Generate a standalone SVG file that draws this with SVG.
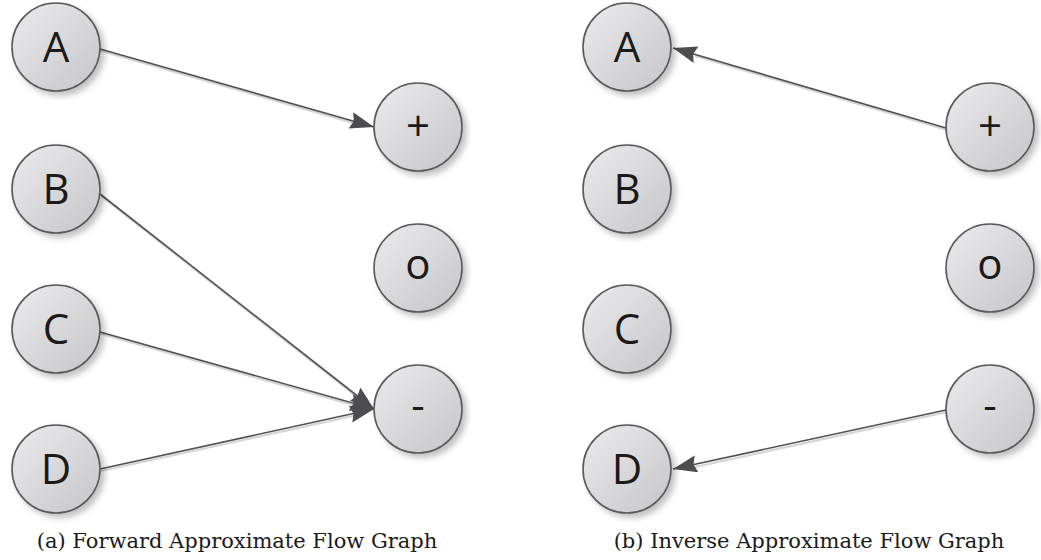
<svg xmlns="http://www.w3.org/2000/svg" width="1041" height="560" viewBox="0 0 1041 560">
<defs>
<linearGradient id="nodeFill" x1="0" y1="0" x2="1" y2="1">
<stop offset="0" stop-color="#ebebed"/>
<stop offset="1" stop-color="#c6c6ca"/>
</linearGradient>
<filter id="shadow" x="-30%" y="-30%" width="170%" height="170%">
<feGaussianBlur in="SourceAlpha" stdDeviation="3"/>
<feOffset dx="4" dy="4" result="b"/>
<feComponentTransfer><feFuncA type="linear" slope="0.25"/></feComponentTransfer>
<feMerge><feMergeNode/><feMergeNode in="SourceGraphic"/></feMerge>
</filter>
<marker id="arrow" markerUnits="userSpaceOnUse" markerWidth="26" markerHeight="20" refX="24" refY="8.5" orient="auto">
<path d="M0,0 L24,8.5 L0,17 L3,8.5 Z" fill="#4d4d4f"/>
</marker>
</defs>
<style>
.node circle{fill:url(#nodeFill);stroke:#5a5a5a;stroke-width:1.6;filter:url(#shadow)}
.node text{font-family:"Open Sans","DejaVu Sans",sans-serif;font-size:42px;font-weight:400;fill:#1a1a1a;text-anchor:middle}
.edge{stroke:#505052;stroke-width:1.6;fill:none}
.edgeshade{stroke:#d4d4d6;stroke-width:2;fill:none}
.caption{font-family:"DejaVu Serif",serif;font-size:21px;fill:#1a1a1a;text-anchor:middle}
</style>

<g id="connectors">
<g transform="translate(1,2)">
<line class="edgeshade" x1="100" y1="49" x2="352" y2="121"/>
<line class="edgeshade" x1="100" y1="194" x2="356" y2="395"/>
<line class="edgeshade" x1="100" y1="332" x2="352" y2="403"/>
<line class="edgeshade" x1="100" y1="469" x2="352" y2="414"/>
<line class="edgeshade" x1="946" y1="128" x2="694" y2="54"/>
<line class="edgeshade" x1="946" y1="410" x2="694" y2="465"/>
</g>
<line class="edge" x1="100" y1="49" x2="374" y2="127" marker-end="url(#arrow)"/>
<line class="edge" x1="100" y1="194" x2="374" y2="409" marker-end="url(#arrow)"/>
<line class="edge" x1="100" y1="332" x2="374" y2="409" marker-end="url(#arrow)"/>
<line class="edge" x1="100" y1="469" x2="374" y2="409" marker-end="url(#arrow)"/>
<line class="edge" x1="946" y1="128" x2="673" y2="48" marker-end="url(#arrow)"/>
<line class="edge" x1="946" y1="410" x2="673" y2="469" marker-end="url(#arrow)"/>
</g>

<g id="a-A" class="node"><circle cx="56" cy="47" r="44"/><text x="56" y="62">A</text></g>
<g id="a-B" class="node"><circle cx="56" cy="189" r="44"/><text x="56" y="204">B</text></g>
<g id="a-C" class="node"><circle cx="56" cy="329" r="44"/><text x="56" y="344">C</text></g>
<g id="a-D" class="node"><circle cx="56" cy="469" r="44"/><text x="56" y="484">D</text></g>
<g id="a-plus" class="node"><circle cx="418" cy="127" r="44"/><text x="418" y="141">+</text></g>
<g id="a-o" class="node"><circle cx="418" cy="268" r="44"/><text x="418" y="279">o</text></g>
<g id="a-minus" class="node"><circle cx="418" cy="409" r="44"/><text x="418" y="420">-</text></g>

<g id="b-A" class="node"><circle cx="627" cy="47" r="44"/><text x="627" y="62">A</text></g>
<g id="b-B" class="node"><circle cx="627" cy="189" r="44"/><text x="627" y="204">B</text></g>
<g id="b-C" class="node"><circle cx="627" cy="329" r="44"/><text x="627" y="344">C</text></g>
<g id="b-D" class="node"><circle cx="627" cy="469" r="44"/><text x="627" y="484">D</text></g>
<g id="b-plus" class="node"><circle cx="990" cy="127" r="44"/><text x="990" y="141">+</text></g>
<g id="b-o" class="node"><circle cx="990" cy="268" r="44"/><text x="990" y="279">o</text></g>
<g id="b-minus" class="node"><circle cx="990" cy="409" r="44"/><text x="990" y="420">-</text></g>

<text class="caption" x="237" y="548">(a) Forward Approximate Flow Graph</text>
<text class="caption" x="809" y="548">(b) Inverse Approximate Flow Graph</text>
</svg>
